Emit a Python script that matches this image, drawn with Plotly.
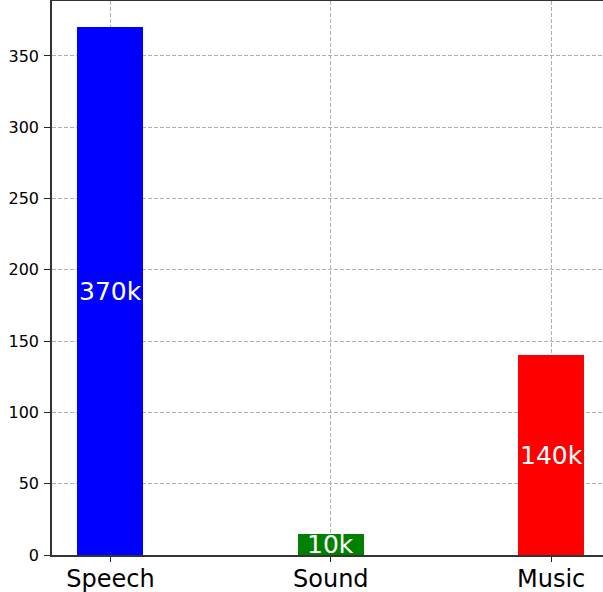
import plotly.graph_objects as go

categories = ["Speech", "Sound", "Music"]
values = [370, 15, 140]
labels = ["370k", "10k", "140k"]
colors = ["#0000ff", "#008000", "#ff0000"]
y_ticks = [0, 50, 100, 150, 200, 250, 300, 350]

x_pos = list(range(len(categories)))

fig = go.Figure()
fig.add_trace(go.Bar(
    x=x_pos, y=values, width=0.3, marker=dict(color=colors, line=dict(width=0)),
    showlegend=False, hoverinfo="skip",
))

for xp, v, lab in zip(x_pos, values, labels):
    fig.add_annotation(x=xp, y=v / 2, text=lab, showarrow=False,
                       font=dict(family="DejaVu Sans", size=25, color="white"),
                       xanchor="center", yanchor="middle")

fig.update_layout(
    width=610, height=592,
    margin=dict(l=52, r=0, t=1, b=37, autoexpand=False),
    plot_bgcolor="white", paper_bgcolor="white",
    font=dict(family="DejaVu Sans", color="black"),
    bargap=0,
)
fig.update_xaxes(
    range=[-0.265, 2.267], automargin=False,
    tickmode="array", tickvals=x_pos, ticktext=categories,
    tickfont=dict(size=24, family="DejaVu Sans"),
    ticks="outside", ticklen=5, tickwidth=1, tickcolor="#222222",
    ticklabelstandoff=-4,
    showline=True, linecolor="#333333", linewidth=1.5, mirror=True,
    showgrid=True, gridcolor="#b0b0b0", griddash="4px,2px", gridwidth=1,
    zeroline=False,
)
fig.update_yaxes(
    range=[0, 388.5], automargin=False,
    tickmode="array", tickvals=y_ticks,
    tickfont=dict(size=16, family="DejaVu Sans"),
    ticks="outside", ticklen=6, tickwidth=1, tickcolor="#222222",
    ticklabelstandoff=2,
    showline=True, linecolor="#333333", linewidth=1.5,
    showgrid=True, gridcolor="#b0b0b0", griddash="4px,2px", gridwidth=1,
    zeroline=False,
)

fig.write_html(
    "out.html",
    config={"displayModeBar": False},
    post_script="document.documentElement.style.overflow='hidden';document.body.style.margin='0';document.body.style.overflow='hidden';",
)
